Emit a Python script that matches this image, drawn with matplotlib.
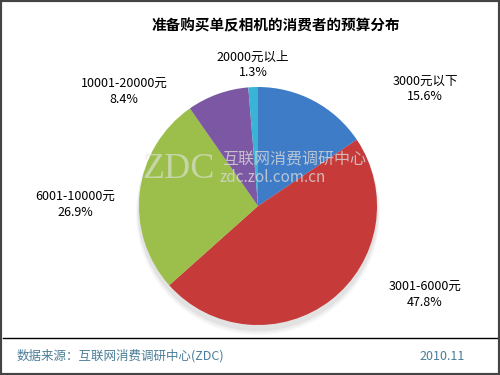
import matplotlib
matplotlib.use("Agg")
import matplotlib.pyplot as plt
from matplotlib.patches import Rectangle, Ellipse

plt.rcParams['font.family'] = ['Noto Sans CJK SC', 'DejaVu Sans']

# data
categories = ["3000元以下", "3001-6000元", "6001-10000元", "10001-20000元", "20000元以上"]
shares = [15.6, 47.8, 26.9, 8.4, 1.3]
colors = ["#3f7cc8", "#c63a3a", "#9bbf4a", "#7c58a4", "#3ab4d6"]
title = "准备购买单反相机的消费者的预算分布"
source = "数据来源：互联网消费调研中心(ZDC)"
date = "2010.11"

W, H = 500, 375
fig = plt.figure(figsize=(5, 3.75), dpi=100)
ax = fig.add_axes([0, 0, 1, 1])

def Y(py):
    # pixel row -> data y
    return H - py

cx, cy, r = 258, Y(206), 119

# soft shadow under the pie
for i, a in enumerate([0.10, 0.08, 0.06]):
    ax.add_patch(Ellipse((cx, cy - 5 - i), 2 * r + 2 + 2 * i, 2 * r + 2 + 2 * i,
                         color="#808080", alpha=a, lw=0, zorder=1))

ax.pie(shares, colors=colors, startangle=90, counterclock=False,
       center=(cx, cy), radius=r, frame=True,
       wedgeprops=dict(linewidth=0, zorder=2))
ax.set_xlim(0, W)
ax.set_ylim(0, H)
ax.set_aspect("auto")
ax.axis("off")

# watermark
ax.text(142, Y(169), "ZDC", fontsize=26, color="#e4e4e4", alpha=0.6,
        family="Liberation Serif", va="center", ha="left", zorder=3)
ax.text(222, Y(160), "互联网消费调研中心", fontsize=11.5, color="#d8d8d8",
        alpha=0.8, va="center", ha="left", zorder=3)
ax.text(220, Y(178), "zdc.zol.com.cn", fontsize=11, color="#d8d8d8",
        alpha=0.8, va="center", ha="left", zorder=3)

# slice labels
label_pos = [(425, 89), (425, 295), (75, 205), (124, 92), (253, 65)]
for cat, val, (px, py) in zip(categories, shares, label_pos):
    ax.text(px, Y(py), f"{cat}\n{val}%", fontsize=9, ha="center", va="center",
            linespacing=1.25, color="#000000", zorder=4)

ax.text(276, Y(25), title, fontsize=10.5, fontweight="bold",
        ha="center", va="center", color="#000000")

# footer
ax.plot([3, 497], [Y(338), Y(338)], color="#000000", lw=1)
ax.text(17, Y(356), source, fontsize=9, color="#4a7d99", ha="left", va="center")
ax.text(465, Y(356), date, fontsize=9, color="#4a7d99", ha="right", va="center")

# outer border
fig.patches.append(Rectangle((0, 0), 1, 1, transform=fig.transFigure,
                             fill=False, edgecolor="#444444", lw=3))

fig.savefig("out.png", dpi=100, facecolor="white")
